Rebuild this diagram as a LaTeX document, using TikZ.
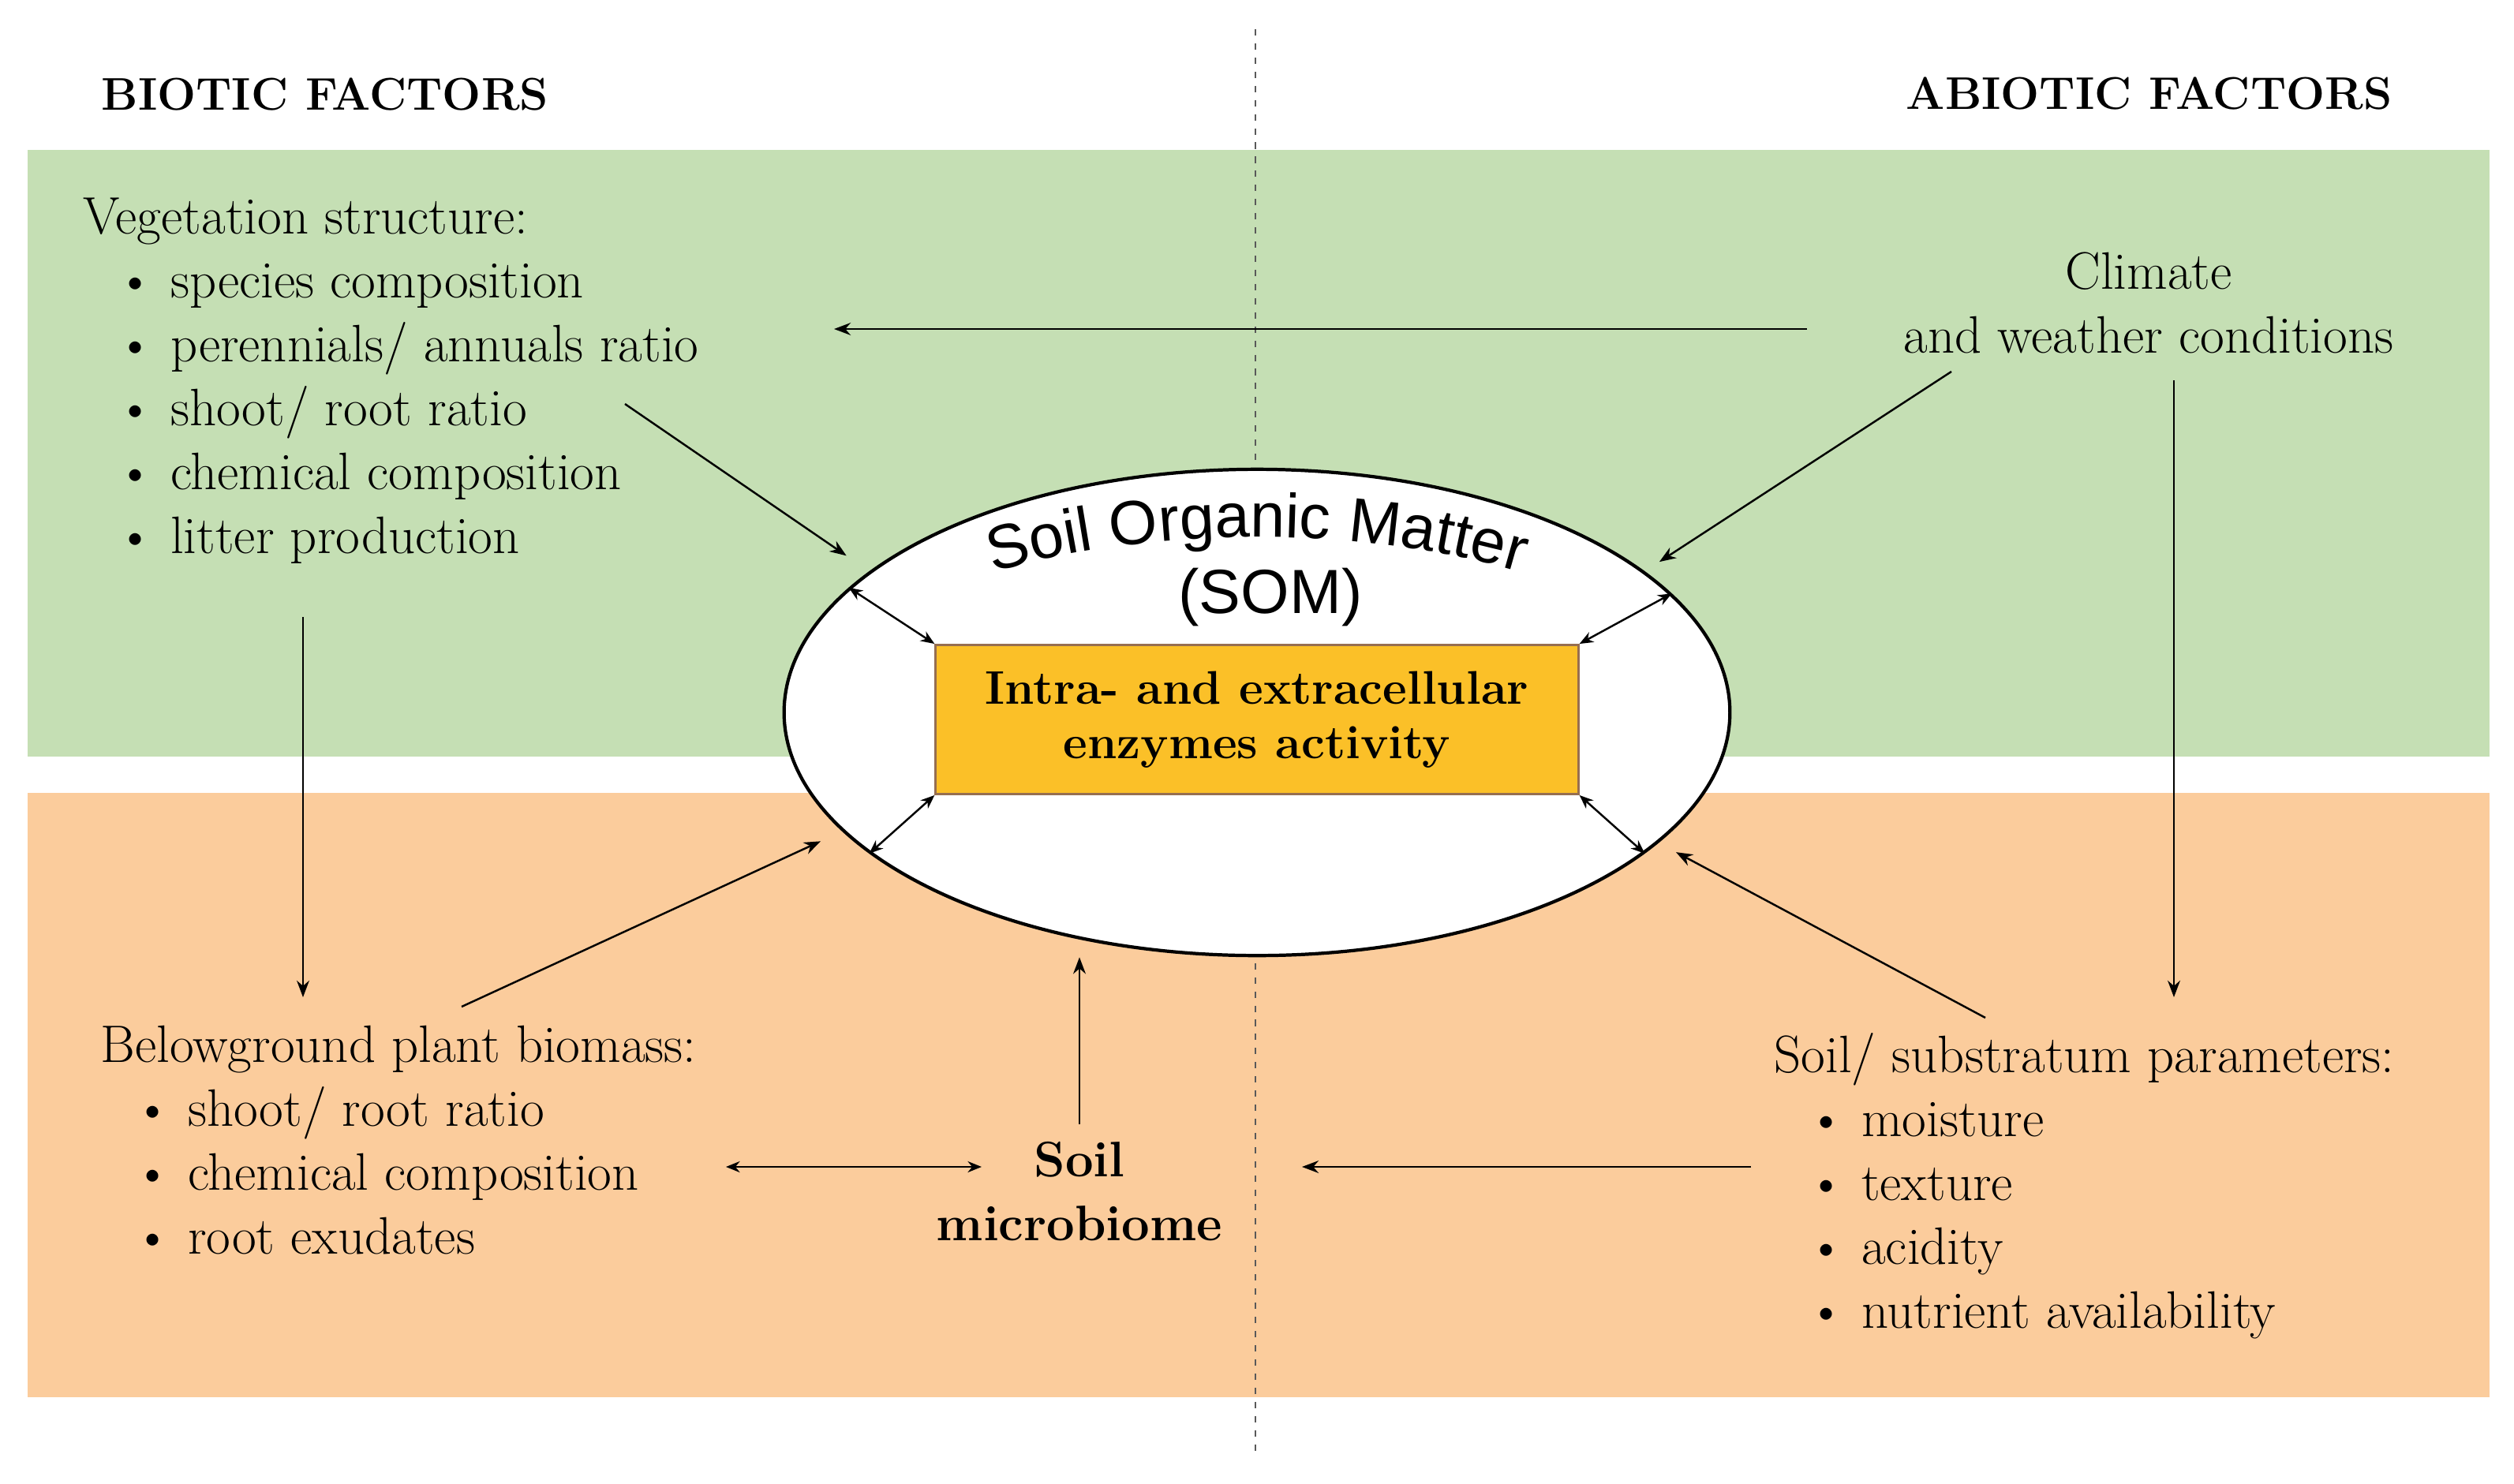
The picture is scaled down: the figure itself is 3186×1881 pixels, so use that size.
\documentclass[tikz,border=0pt]{standalone}
\usepackage{fontspec}
\newfontfamily\somfont{Liberation Sans}
\usetikzlibrary{arrows.meta, shapes.geometric, positioning, calc, decorations.text}

\definecolor{vegGreen}{RGB}{197,223,180}
\definecolor{soilOrange}{RGB}{251,204,156}
\definecolor{enzGold}{RGB}{251,192,40}
\definecolor{enzEdge}{RGB}{150,110,80}

\newcommand{\itm}{\hspace*{12pt}\textbullet\ }

\begin{document}
\begin{tikzpicture}[
        x=0.01cm, y=-0.01cm,
        factor/.style={inner sep=0pt, align=left, anchor=base west, font={\fontsize{19}{23}\selectfont}},
        headline/.style={inner sep=0pt, anchor=base west, font={\fontsize{16.5}{20}\selectfont\bfseries}},
        arrow/.style={-{Stealth[length=6pt, width=4.5pt]}, line width=0.7pt},
        biarrow/.style={{Stealth[length=5pt, width=4pt]}-{Stealth[length=5pt, width=4pt]}, line width=0.7pt},
        divider/.style={dash pattern=on 2.3pt off 2.8pt, line width=0.8pt, black!65}
    ]
        \useasboundingbox (0,0) rectangle (3186,1881);

        % Background bands
        \fill[vegGreen] (35,190) rectangle (3155,959);
        \fill[soilOrange] (35,1005) rectangle (3155,1771);
        \draw[divider] (1591,37) -- (1591,1839);

        % Headings
        \node[headline] (biotic) at (128,139) {BIOTIC FACTORS};
        \node[headline, anchor=base east] (abiotic) at (3032,138) {ABIOTIC FACTORS};

        % Soil organic matter and enzymes
        \node (som) [ellipse, draw, line width=1.2pt, fill=white, minimum width=11.98cm, minimum height=6.16cm] at (1593,903) {};
        \node (enz) [draw=enzEdge, line width=0.8pt, fill=enzGold, minimum width=8.14cm, minimum height=1.89cm, align=center, font={\fontsize{17}{19.5}\selectfont\bfseries}] at (1593,912) {Intra- and extracellular\\enzymes activity};
        \path[decorate, decoration={text along path, text align=center, text={|\somfont\fontsize{22.5}{27}\selectfont|Soil Organic Matter}}]
            ($(som.center)+(150:5.55cm and 2.22cm)$) arc[start angle=150, end angle=30, x radius=5.55cm, y radius=2.22cm];
        \node (somabbr) [inner sep=0pt, anchor=base, font={\somfont\fontsize{22.5}{27}\selectfont}] at (1610,777) {(SOM)};

        % Factors (anchored at the baseline of their last line)
        \node (veg) [factor] at (105,701) {Vegetation structure:\\ \itm species composition\\ \itm perennials/ annuals ratio\\ \itm shoot/ root ratio\\ \itm chemical composition\\ \itm litter production};
        \node (climate) [factor, align=center, anchor=base] at (2723,447) {Climate\\and weather conditions};
        \node (below) [factor] at (127,1589) {Belowground plant biomass:\\ \itm shoot/ root ratio\\ \itm chemical composition\\ \itm root exudates};
        \node (soil) [factor] at (2248,1683) {Soil/ substratum parameters:\\ \itm moisture\\ \itm texture\\ \itm acidity\\ \itm nutrient availability};
        \node (micro) [factor, align=center, anchor=base, inner sep=6pt, font={\fontsize{18}{23}\selectfont\bfseries}] at (1368,1572) {Soil\\microbiome};

        % Free arrow ends
        \coordinate (climW) at (2290,417);
        \coordinate (vegE) at (1057,417);
        \coordinate (climS) at (2473,471);
        \coordinate (climD) at (2755,482);
        \coordinate (soilN) at (2755,1264);
        \coordinate (vegS) at (792,512);
        \coordinate (vegD) at (384,782);
        \coordinate (belowN) at (384,1264);
        \coordinate (belowE) at (585,1276);
        \coordinate (soilW) at (2516,1290);
        \coordinate (chemE) at (920,1479);
        \coordinate (microW) at (1244,1479);
        \coordinate (moistW) at (2219,1479);
        \coordinate (microE) at (1650,1479);

        % Influences
        \draw[arrow] (climW) -- (vegE);
        \draw[arrow, shorten >=0.22cm] (climS) -- (som.20);
        \draw[arrow] (climD) -- (soilN);
        \draw[arrow, shorten >=0.35cm] (vegS) -- (som.160);
        \draw[arrow] (vegD) -- (belowN);
        \draw[arrow, shorten >=0.3cm] (belowE) -- (som.196);
        \draw[arrow, shorten >=0.25cm] (soilW) -- (som.342);
        \draw[arrow] (micro.north) -- (micro.north |- som.south);
        \draw[biarrow] (chemE) -- (microW);
        \draw[arrow] (moistW) -- (microE);

        % Exchange between SOM and enzymes
        \draw[biarrow] (enz.north west) -- (som.163);
        \draw[biarrow] (enz.north east) -- (som.16);
        \draw[biarrow] (enz.south west) -- (som.200);
        \draw[biarrow] (enz.south east) -- (som.340);
    \end{tikzpicture}
\end{document}
